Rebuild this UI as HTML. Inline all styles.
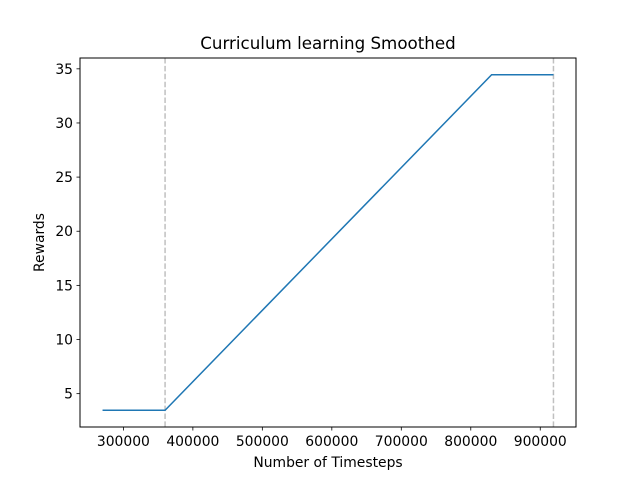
<!DOCTYPE html>
<html><head><meta charset="utf-8"><style>
body{margin:0;background:#fff;}
svg text{font-family:"DejaVu Sans","Liberation Sans",sans-serif;fill:#000;}
</style></head><body>
<svg id="chart" width="640" height="480" xmlns="http://www.w3.org/2000/svg">
<rect width="640" height="480" fill="#fff"/>
<g id="plot"></g>
</svg>
<script>
const xs = [270000, 360000, 830000, 919000];
const ys = [3.47, 3.47, 34.45, 34.45];
const vlines = [360000, 919000];
const xTicks = [300000, 400000, 500000, 600000, 700000, 800000, 900000];
const yTicks = [5, 10, 15, 20, 25, 30, 35];
const L=80, R=576, T=58, B=427;
const xmin=237550, xmax=951450, ymin=1.92, ymax=36.0;
const X=v=>L+(v-xmin)/(xmax-xmin)*(R-L);
const Y=v=>B-(v-ymin)/(ymax-ymin)*(B-T);
const g=document.getElementById('plot');
const NS='http://www.w3.org/2000/svg';
function mk(t,a){const e=document.createElementNS(NS,t);for(const k in a)e.setAttribute(k,a[k]);g.appendChild(e);return e;}
vlines.forEach(v=>{
  const e=mk('line',{x1:X(v),x2:X(v),y1:T,y2:B,stroke:'#c0c0c0','stroke-width':1.5,'stroke-dasharray':'5.5,2.4'});
  
  
});
const p=mk('polyline',{points:xs.map((x,i)=>X(x)+','+Y(ys[i])).join(' '),fill:'none',stroke:'#1f77b4','stroke-width':1.5});


const fr=mk('rect',{x:L,y:T,width:R-L,height:B-T,fill:'none',stroke:'#000','stroke-width':1});


xTicks.forEach(v=>{
  const t=mk('line',{x1:X(v),x2:X(v),y1:B,y2:B+3.5,stroke:'#000','stroke-width':0.8});
  
  
  const l=mk('text',{x:X(v),y:B+19,'text-anchor':'middle','font-size':13.9});
  l.textContent=v;
  
  
});
yTicks.forEach(v=>{
  const t=mk('line',{x1:L-3.5,x2:L,y1:Y(v),y2:Y(v),stroke:'#000','stroke-width':0.8});
  
  
  const l=mk('text',{x:L-7,y:Y(v)+5,'text-anchor':'end','font-size':13.9});
  l.textContent=v;
  
  
});
const ti=mk('text',{x:(L+R)/2,y:49,'text-anchor':'middle','font-size':16.7});
ti.textContent='Curriculum learning Smoothed';


const xl=mk('text',{x:(L+R)/2,y:467,'text-anchor':'middle','font-size':13.9});
xl.textContent='Number of Timesteps';


const yl=mk('text',{x:0,y:0,'text-anchor':'middle','font-size':13.9,transform:'translate(44,'+((T+B)/2)+') rotate(-90)'});
yl.textContent='Rewards';


</script>
</body></html>
